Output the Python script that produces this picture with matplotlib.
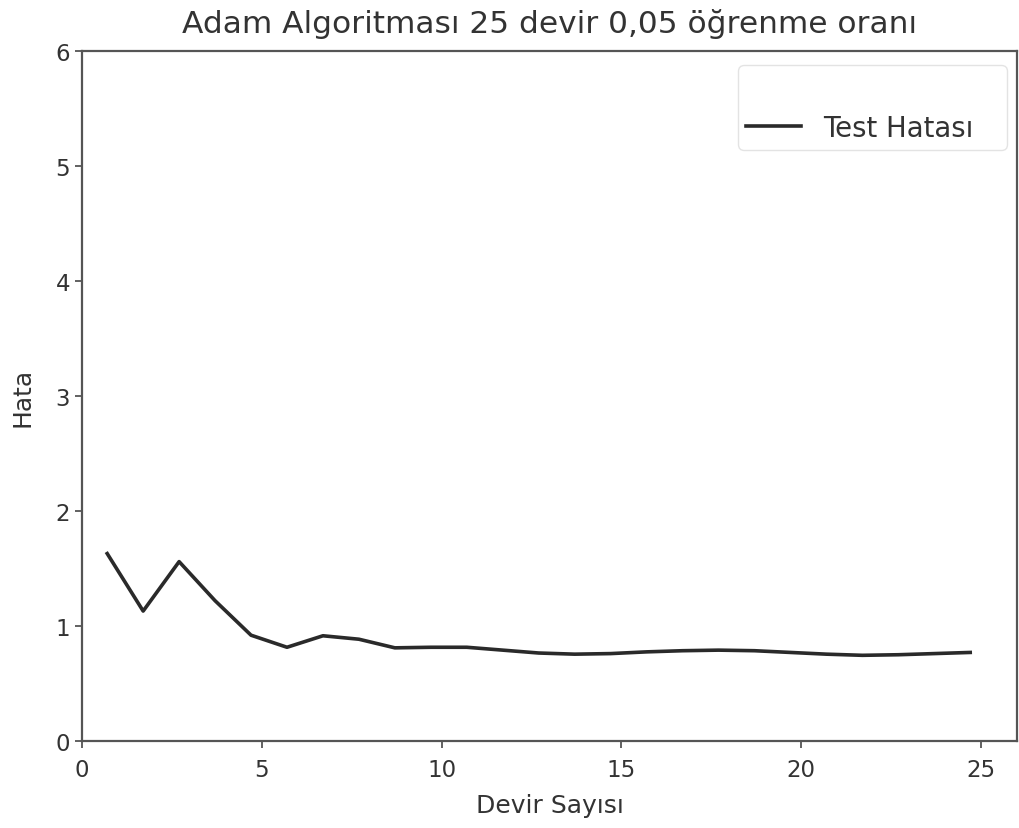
import matplotlib
matplotlib.use("Agg")
import matplotlib.pyplot as plt
from matplotlib.lines import Line2D

# Data
epochs = [0.7, 1.7, 2.7, 3.7, 4.7, 5.7, 6.7, 7.7, 8.7, 9.7, 10.7, 11.7, 12.7,
          13.7, 14.7, 15.7, 16.7, 17.7, 18.7, 19.7, 20.7, 21.7, 22.7, 23.7, 24.7]
test_error = [1.63, 1.13, 1.56, 1.22, 0.92, 0.815, 0.915, 0.885, 0.81, 0.815,
              0.815, 0.79, 0.765, 0.755, 0.76, 0.775, 0.785, 0.79, 0.785, 0.77,
              0.755, 0.745, 0.75, 0.76, 0.77]
x_ticks = [0, 5, 10, 15, 20, 25]
y_ticks = [0, 1, 2, 3, 4, 5, 6]

title = "Adam Algoritması 25 devir 0,05 öğrenme oranı"
x_label = "Devir Sayısı"
y_label = "Hata"
legend_label = "Test Hatası"

plt.rcParams['font.family'] = ['DejaVu Sans']
text_color = '#333333'

fig = plt.figure(figsize=(10.19, 8.29), dpi=100)
ax = fig.add_axes([0.0805, 0.105, 0.9175, 0.832])

ax.plot(epochs, test_error, color='#2a2a2a', linewidth=2.6, label=legend_label)

ax.set_xlim(0, 26)
ax.set_ylim(0, 6)
ax.set_xticks(x_ticks)
ax.set_yticks(y_ticks)
ax.tick_params(labelsize=16.5, colors='#555555', labelcolor=text_color, width=1.3, length=5)
ax.tick_params(axis='x', pad=7)
for s in ax.spines.values():
    s.set_color('#555555')
    s.set_linewidth(1.6)

ax.set_title(title, fontsize=22.5, color=text_color, pad=14)
ax.set_xlabel(x_label, fontsize=18, color=text_color, labelpad=9)
ax.set_ylabel(y_label, fontsize=18, color=text_color, labelpad=15)

blank = Line2D([], [], color='none')
line_handle = ax.get_lines()[0]
leg = ax.legend(handles=[blank, line_handle],
                labels=[' ' * 20, legend_label],
                loc='upper right', fontsize=19.8, frameon=True,
                borderpad=0.3, handlelength=2.0, handletextpad=0.8,
                labelspacing=0.45, borderaxespad=0,
                bbox_to_anchor=(0.989, 0.98))
leg.get_frame().set_edgecolor('#dddddd')
for t in leg.get_texts():
    t.set_color(text_color)

fig.savefig("out.png", dpi=100, facecolor='white')
